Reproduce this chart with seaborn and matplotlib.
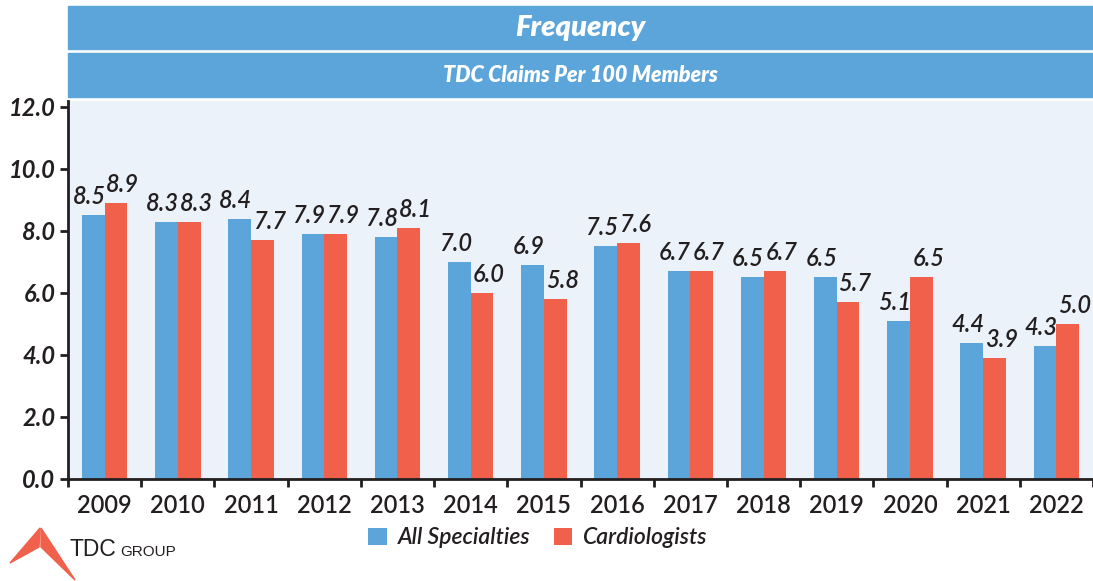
import matplotlib
matplotlib.use("Agg")
import matplotlib.pyplot as plt
import seaborn as sns
import pandas as pd
from matplotlib.patches import Rectangle, Polygon

years = ["2009", "2010", "2011", "2012", "2013", "2014", "2015",
         "2016", "2017", "2018", "2019", "2020", "2021", "2022"]
all_specialties = [8.5, 8.3, 8.4, 7.9, 7.8, 7.0, 6.9, 7.5, 6.7, 6.5, 6.5, 5.1, 4.4, 4.3]
cardiologists = [8.9, 8.3, 7.7, 7.9, 8.1, 6.0, 5.8, 7.6, 6.7, 6.7, 5.7, 6.5, 3.9, 5.0]
series_names = ["All Specialties", "Cardiologists"]
yticks = [0, 2, 4, 6, 8, 10, 12]

blue = "#5BA5DA"
red = "#F0604A"
bg = "#EBF2FA"
ink = "#231F20"

sns.set_style("white")
plt.rcParams["font.family"] = ["Lato", "DejaVu Sans"]

df = pd.DataFrame({
    "year": years * 2,
    "value": all_specialties + cardiologists,
    "series": [series_names[0]] * len(years) + [series_names[1]] * len(years),
})

fig = plt.figure(figsize=(10.93, 5.81), dpi=100)
ax = fig.add_axes([68 / 1093, 1 - 479 / 581, 1 - 68 / 1093, (479 - 101) / 581])

sns.barplot(data=df, x="year", y="value", hue="series", order=years,
            palette=[blue, red], width=0.62, saturation=1, linewidth=0,
            ax=ax, legend=True)

ax.set_facecolor(bg)
ax.set_xlim(-0.5, len(years) - 0.5)
ax.set_ylim(0, 12.19)
ax.set_xlabel("")
ax.set_ylabel("")

# value labels
for cont, dx in zip(ax.containers, [-3, 5]):
    for bar, v in zip(cont, cont.datavalues):
        ax.annotate(f"{v:.1f}", (bar.get_x() + bar.get_width() / 2, v),
                    xytext=(dx, 5), textcoords="offset points",
                    ha="center", va="bottom", fontsize=17, style="italic",
                    fontweight="semibold", color=ink)

ax.set_yticks(yticks)
ax.set_yticklabels([f"{t:.1f}" for t in yticks], fontsize=17, style="italic",
                   fontweight="bold", color=ink)
ax.tick_params(axis="y", length=6, width=2, color=ink, left=True, pad=3)
ax.set_xticks(range(len(years)))
ax.set_xticklabels(years, fontsize=17, fontweight="semibold", color=ink)
ax.set_xticks([i - 0.5 for i in range(len(years) + 1)], minor=True)
ax.tick_params(axis="x", which="major", length=0, pad=11)
ax.tick_params(axis="x", which="minor", length=6, width=2, color=ink, bottom=True)

for s in ["top", "right"]:
    ax.spines[s].set_visible(False)
for s in ["left", "bottom"]:
    ax.spines[s].set_color(ink)
    ax.spines[s].set_linewidth(2)

leg = ax.legend(loc="center", bbox_to_anchor=(538 / 1093, 1 - 538 / 581),
                bbox_transform=fig.transFigure, ncol=2, frameon=False,
                handlelength=0.8, handleheight=0.8, handletextpad=0.5,
                columnspacing=1.0,
                prop={"size": 16.5, "style": "italic", "weight": "semibold"})
for t in leg.get_texts():
    t.set_color(ink)

# header banners
fig.patches.append(Rectangle((68 / 1093, 1 - 49 / 581), 1, 43 / 581,
                             transform=fig.transFigure, color=blue, zorder=0))
fig.patches.append(Rectangle((68 / 1093, 1 - 97 / 581), 1, 44 / 581,
                             transform=fig.transFigure, color=blue, zorder=0))
cx = (68 + 1093) / 2 / 1093
fig.text(cx, 1 - 28 / 581, "Frequency", ha="center", va="center", color="white",
         fontsize=21, style="italic", fontweight="heavy")
fig.text(cx, 1 - 75 / 581, "TDC Claims Per 100 Members", ha="center", va="center",
         color="white", fontsize=15.5, style="italic", fontweight="heavy")

# logo
def px(x, y):
    return (x / 1093, 1 - y / 581)

fig.patches.append(Polygon([px(40, 528), px(10, 563), px(39, 547)],
                           closed=True, transform=fig.transFigure, color=red))
fig.patches.append(Polygon([px(41, 528), px(41, 547), px(75, 580)],
                           closed=True, transform=fig.transFigure, color=red))
fig.text(69 / 1093, 1 - 550 / 581, "TDC", ha="left", va="center", fontsize=16.5,
         color=ink, family=["Liberation Sans Narrow", "Liberation Sans"])
fig.text(120 / 1093, 1 - 552 / 581, "GROUP", ha="left", va="center", fontsize=11,
         color=ink, family=["Liberation Sans Narrow", "Liberation Sans"])

fig.savefig("out.png", dpi=100)
